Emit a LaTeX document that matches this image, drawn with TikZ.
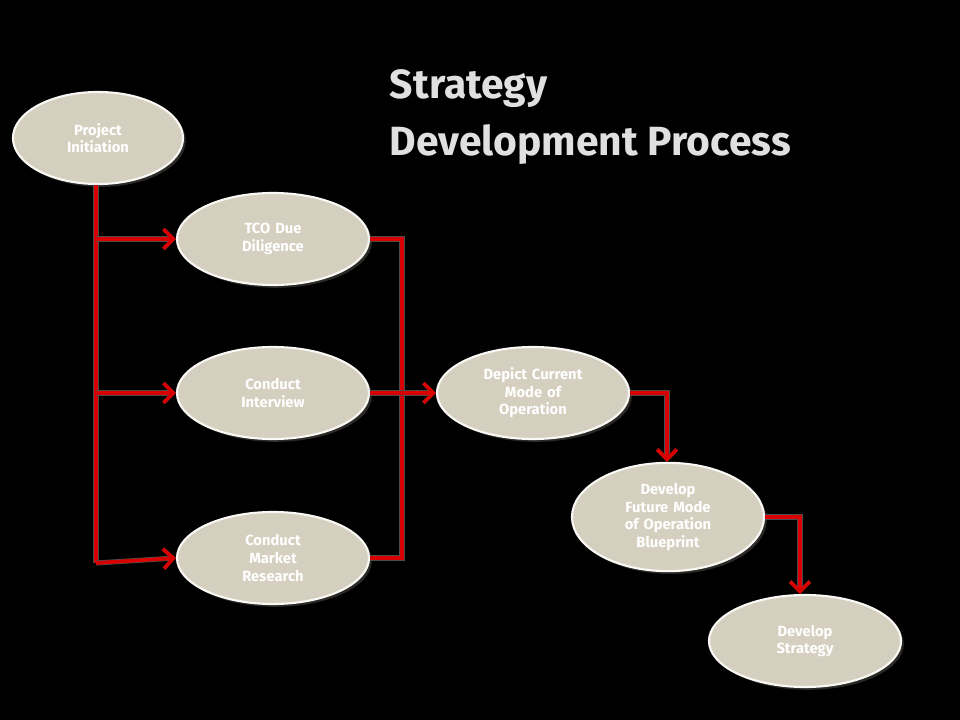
\documentclass[tikz,border=0pt]{standalone}
\usepackage{fontspec}
\setmainfont{Fira Sans}
\usetikzlibrary{shapes.geometric,arrows.meta}
\definecolor{stone}{HTML}{D5CFBF}
\definecolor{linkred}{HTML}{D80000}
\tikzset{
  stage/.style={ellipse, fill=stone, draw=white!85!stone, line width=1.5pt,
    minimum width=4.8cm, minimum height=2.3cm, text=white, align=center,
    font=\bfseries\fontsize{10.5}{12.5}\selectfont, text width=2.6cm,
    drop shadow={fill=black!60!stone, shadow xshift=2pt, shadow yshift=-2pt}},
  link/.style={draw=linkred, line width=2.6pt,
    preaction={draw=black!70, line width=3.6pt}},
  tip/.style={link, -{Straight Barb[length=7pt, width=14pt, line width=2.6pt]}}
}
\usetikzlibrary{shadows}
\begin{document}
\begin{tikzpicture}[x=0.025cm, y=-0.025cm]
  \fill[black] (0,0) rectangle (960,720);
  \node[font=\bfseries\fontsize{29}{40}\selectfont, text=white!88!black, anchor=north west, align=left]
    at (385,65) {Strategy\\Development Process};
  \node[stage, minimum width=4.25cm] (init) at (98,138) {Project Initiation};
  \node[stage] (tco) at (273,239) {TCO Due Diligence};
  \node[stage] (interview) at (273,393) {Conduct Interview};
  \node[stage] (market) at (273,558) {Conduct Market Research};
  \node[stage] (current) at (533,393) {Depict Current Mode of Operation};
  \node[stage] (future) at (668,517) {Develop Future Mode of Operation Blueprint};
  \node[stage] (strategy) at (805,641) {Develop Strategy};
  \coordinate (split) at (96,563);
  \coordinate (join) at (402,558);
  % left branches
  \draw[link] (init.south -| split) -- (split);
  \draw[tip] (96,239) -- (tco.west);
  \draw[tip] (96,393) -- (interview.west);
  \draw[tip] (split) -- (market.west);
  % right branches
  \draw[link] (tco.east) -- (402,239) -- (join) -- (market.east);
  \draw[tip] (interview.east) -- (current.west);
  \draw[tip] (current.east) -- (667,393) -- (future.north -| 667,393);
  \draw[tip] (future.east) -- (800,517) -- (strategy.north -| 800,517);
\end{tikzpicture}
\end{document}
